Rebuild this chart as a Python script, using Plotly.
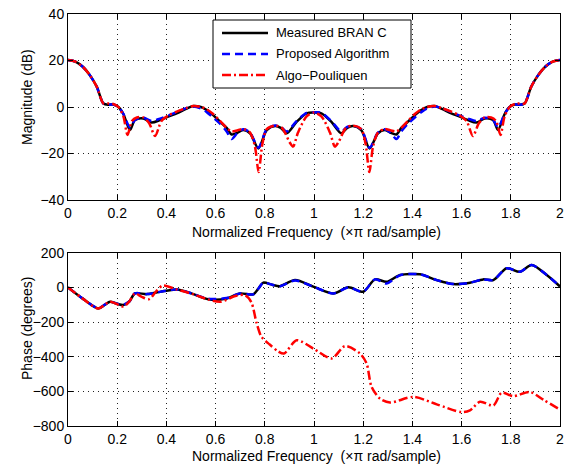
import plotly.graph_objects as go
from plotly.subplots import make_subplots

# ---------------- Magnitude data ----------------
mag_f_meas = [0, 0.03, 0.06, 0.09, 0.117, 0.144, 0.165, 0.184, 0.205, 0.225, 0.252, 0.272, 0.306, 0.34, 0.374,
              0.41, 0.442, 0.48, 0.509, 0.54, 0.564, 0.59, 0.618, 0.645, 0.665, 0.69, 0.713, 0.74, 0.774, 0.808,
              0.842, 0.865, 0.889, 0.93, 0.97, 1.0,
              1.03, 1.07, 1.111, 1.135, 1.158, 1.192, 1.226, 1.26, 1.287, 1.31, 1.335, 1.355, 1.382, 1.41, 1.436,
              1.46, 1.491, 1.52, 1.558, 1.59, 1.626, 1.66, 1.694, 1.728, 1.748, 1.775, 1.795, 1.816, 1.835, 1.856,
              1.883, 1.91, 1.94, 1.97, 2.0]
mag_meas = [20.2, 19.5, 17.3, 13.5, 8.7, 1.5, 1.0, 1.1, 0.0, -3, -9.9, -5.6, -4.9, -6.7, -5.6,
            -4.0, -2.7, -0.8, 0.4, 0, -1.3, -3.5, -6.3, -9, -11.8, -11, -9.9, -11.3, -17.8, -9.9,
            -8.2, -9, -11.3, -6.3, -2.7, -2.4,
            -2.7, -6.3, -11.3, -9, -8.2, -9.9, -17.8, -11.3, -9.9, -11, -11.8, -9, -6.3, -3.5, -1.3,
            0, 0.4, -0.8, -2.7, -4.0, -5.6, -6.7, -4.9, -5.6, -9.9, -3, 0.0, 1.1, 1.0, 1.5,
            8.7, 13.5, 17.3, 19.5, 20.2]
mag_prop = [20.2, 19.5, 17.3, 13.5, 8.7, 1.5, 1.0, 1.1, 0.0, -3, -8.8, -5.6, -4.6, -6.0, -5.0,
            -3.6, -2.2, -0.5, 0.2, -0.6, -2.2, -4.5, -7.2, -10.5, -13.8, -11, -9.6, -11.0, -17.5, -9.5,
            -8.0, -8.5, -10.5, -6.0, -2.5, -2.3,
            -2.5, -6.0, -10.5, -8.5, -8.0, -9.5, -17.5, -11.0, -9.6, -11, -13.8, -10.5, -7.2, -4.5, -2.2,
            -0.6, 0.2, -0.5, -2.2, -3.6, -5.0, -6.0, -4.6, -5.6, -8.8, -3, 0.0, 1.1, 1.0, 1.5,
            8.7, 13.5, 17.3, 19.5, 20.2]

mag_f_pouli = [0, 0.03, 0.06, 0.09, 0.117, 0.144, 0.165, 0.184, 0.205, 0.225, 0.242, 0.26, 0.28, 0.306, 0.33,
               0.354, 0.38, 0.41, 0.442, 0.48, 0.509, 0.54, 0.564, 0.59, 0.618, 0.645, 0.665, 0.69, 0.713, 0.74,
               0.76, 0.775, 0.79, 0.808, 0.842, 0.87, 0.9, 0.915, 0.935, 0.97, 1.0,
               1.03, 1.065, 1.085, 1.1, 1.13, 1.158, 1.192, 1.21, 1.225, 1.24, 1.26, 1.287, 1.31, 1.335,
               1.355, 1.382, 1.41, 1.436, 1.46, 1.491, 1.52, 1.558, 1.59, 1.62, 1.646, 1.67, 1.694, 1.72,
               1.74, 1.758, 1.775, 1.795, 1.816, 1.835, 1.856, 1.883, 1.91, 1.94, 1.97, 2.0]
mag_pouli = [20.2, 19.5, 17.3, 13.5, 8.7, 1.5, 1.5, 1.3, 0.0, -4, -12, -6, -4.5, -4.5, -7,
             -12.5, -6, -3.5, -2, -0.5, 0.4, 0, -1, -3, -6, -9, -10.5, -10, -9.5, -11,
             -17, -28, -16, -9.5, -8, -9, -15, -17, -11, -4, -2.4,
             -4, -11, -17, -15, -9, -8, -9.5, -16, -28, -17, -11, -9.5, -10, -10.5,
             -9, -6, -3, -1, 0, 0.4, -0.5, -2, -3.5, -6, -12.5, -7, -4.5, -4.5,
             -6, -12, -4, 0, 1.3, 1.5, 1.5, 8.7, 13.5, 17.3, 19.5, 20.2]

# ---------------- Phase data ----------------
ph_f_meas = [0, 0.06, 0.123, 0.15, 0.171, 0.2, 0.225, 0.25, 0.272, 0.32, 0.374, 0.442, 0.51, 0.57, 0.645,
             0.699, 0.753, 0.775, 0.794, 0.83, 0.862, 0.923, 0.997, 1.078, 1.14, 1.2, 1.248, 1.295, 1.35,
             1.431, 1.499, 1.566, 1.634, 1.688, 1.729, 1.783, 1.837, 1.885, 1.946, 2.0]
ph_meas = [0, -65, -122, -100, -83, -95, -102, -80, -35, -39, -26, -12, -39, -68, -64,
           -35, -40, -5, 27, 15, 7, 42, 4, -35, 0, -25, 46, 32, 71,
           75, 42, 19, 27, 46, 42, 110, 90, 129, 71, 5]
ph_prop = [0, -65, -120, -100, -83, -95, -100, -80, -35, -39, -26, -12, -39, -66, -62,
           -35, -40, -5, 27, 15, 7, 40, 4, -35, 0, -25, 46, 22, 70,
           75, 42, 19, 27, 46, 42, 110, 90, 129, 71, 5]

ph_f_pouli = [0, 0.06, 0.123, 0.171, 0.225, 0.25, 0.272, 0.3, 0.33, 0.36, 0.385, 0.442, 0.51, 0.57, 0.62,
              0.68, 0.72, 0.745, 0.767, 0.786, 0.82, 0.855, 0.878, 0.93, 0.997, 1.072, 1.126, 1.187, 1.214,
              1.234, 1.268, 1.309, 1.404, 1.499, 1.6, 1.634, 1.675, 1.729, 1.763, 1.81, 1.878, 1.932, 1.993]
ph_pouli = [0, -65, -122, -83, -110, -80, -35, -55, -68, -20, 10, -12, -40, -70, -83,
            -50, -45, -85, -207, -284, -330, -370, -382, -305, -353, -410, -339, -382, -440,
            -574, -642, -665, -632, -675, -720, -710, -660, -682, -608, -628, -604, -648, -700]

x_ticks = [0, 0.2, 0.4, 0.6, 0.8, 1, 1.2, 1.4, 1.6, 1.8, 2]
x_tick_text = ["0", "0.2", "0.4", "0.6", "0.8", "1", "1.2", "1.4", "1.6", "1.8", "2"]
mag_ticks = [-40, -20, 0, 20, 40]
ph_ticks = [-800, -600, -400, -200, 0, 200]

names = ["Measured BRAN C", "Proposed Algorithm", "Algo\u2212Pouliquen"]
x_title = "Normalized Frequency\u00a0\u00a0(\u00d7\u03c0 rad/sample)"
mag_title = "Magnitude (dB)"
ph_title = "Phase (degrees)"

FONT = "Liberation Sans, Arial, Helvetica, sans-serif"
W, H = 568, 466
ML, MR, MT, MB = 68, 8, 14, 40
PW, PH = W - ML - MR, H - MT - MB


def px_x(px):
    return (px - ML) / PW


def px_y(py):
    return (H - MB - py) / PH


fig = make_subplots(rows=2, cols=1, vertical_spacing=0.0)

black = dict(color="black", width=2.5)
blue = dict(color="#0000ff", width=2.5, dash="8px,5px")
red = dict(color="#ff0000", width=2.5, dash="9px,3px,2px,3px")
styles = [black, blue, red]

for xs, ys, st, r in [(mag_f_meas, mag_meas, black, 1), (mag_f_meas, mag_prop, blue, 1),
                      (mag_f_pouli, mag_pouli, red, 1),
                      (ph_f_meas, ph_meas, black, 2), (ph_f_meas, ph_prop, blue, 2),
                      (ph_f_pouli, ph_pouli, red, 2)]:
    fig.add_trace(go.Scatter(x=xs, y=ys, mode="lines", showlegend=False, hoverinfo="skip",
                             line=dict(**st, shape="spline", smoothing=0.8)), row=r, col=1)

axis_common = dict(showline=True, linecolor="black", linewidth=1, mirror="ticks", ticks="inside", ticklen=5,
                   tickcolor="black", showgrid=True, gridcolor="#222222", griddash="1px,4px", gridwidth=1,
                   zeroline=False, automargin=False,
                   tickfont=dict(family=FONT, size=14, color="black"))

fig.update_xaxes(**axis_common, range=[0, 2], tickvals=x_ticks, ticktext=x_tick_text,
                 ticklabeloverflow="allow")
fig.update_yaxes(**axis_common)
fig.update_yaxes(range=[-40, 40], tickvals=mag_ticks, row=1, col=1)
fig.update_yaxes(range=[-800, 200], tickvals=ph_ticks, row=2, col=1)

annotations = []
tfont = dict(family=FONT, size=14, color="black")
# x-axis titles
for yc in (232, 456):
    annotations.append(dict(text=x_title, xref="paper", yref="paper", x=px_x(316), y=px_y(yc),
                            xanchor="center", yanchor="middle", showarrow=False, font=tfont))
# y-axis titles
annotations.append(dict(text=mag_title, xref="paper", yref="paper", x=px_x(27), y=px_y(97),
                        xanchor="center", yanchor="middle", showarrow=False, textangle=-90, font=tfont))
annotations.append(dict(text=ph_title, xref="paper", yref="paper", x=px_x(27), y=px_y(328),
                        xanchor="center", yanchor="middle", showarrow=False, textangle=-90, font=tfont))

# legend (box, sample lines, labels)
shapes = [dict(type="rect", xref="paper", yref="paper", x0=px_x(213), x1=px_x(411), y0=px_y(88), y1=px_y(20),
               line=dict(color="black", width=1), fillcolor="white", layer="above")]
leg_y = [33, 54, 75]
for name, st, ly in zip(names, styles, leg_y):
    shapes.append(dict(type="line", xref="paper", yref="paper", x0=px_x(222), x1=px_x(268),
                       y0=px_y(ly), y1=px_y(ly), line=st, layer="above"))
    annotations.append(dict(text=name, xref="paper", yref="paper", x=px_x(274), y=px_y(ly),
                            xanchor="left", yanchor="middle", showarrow=False,
                            font=dict(family=FONT, size=13, color="black")))

fig.update_layout(
    width=W, height=H,
    margin=dict(l=ML, r=MR, t=MT, b=MB, autoexpand=False),
    paper_bgcolor="white", plot_bgcolor="white",
    font=dict(family=FONT, size=14, color="black"),
    yaxis=dict(domain=[px_y(200), 1.0]),
    yaxis2=dict(domain=[0.0, px_y(252.7)]),
    xaxis=dict(anchor="y"), xaxis2=dict(anchor="y2"),
    showlegend=False,
    hovermode=False,
    shapes=shapes,
    annotations=annotations,
)

fig.write_html("out.html", config={"displayModeBar": False, "staticPlot": True},
               post_script="document.body.style.margin='0';document.body.style.padding='0';"
                           "document.body.style.overflow='hidden';")
